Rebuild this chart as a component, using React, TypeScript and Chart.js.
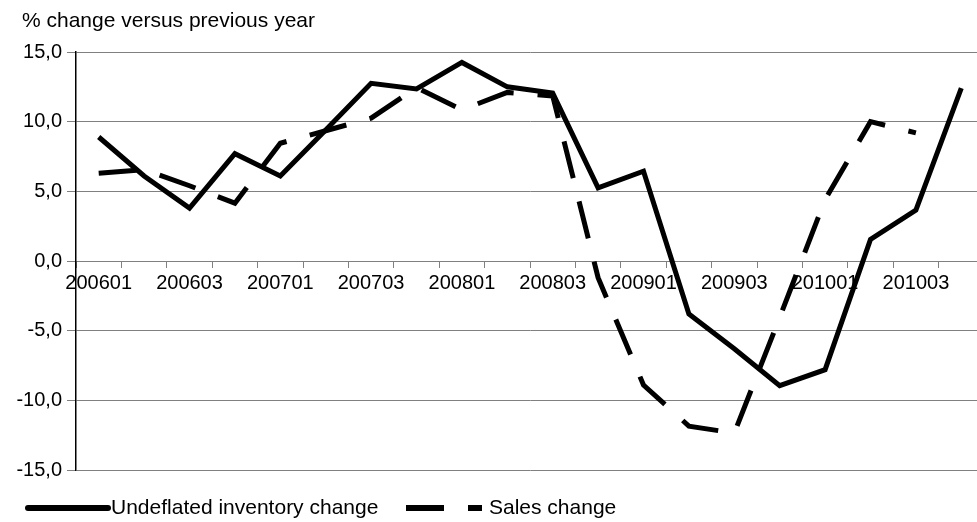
import React, { useEffect, useRef } from 'react';
import { Chart, registerables } from 'chart.js';

Chart.register(...registerables);

const categories = [
  '200601', '200602', '200603', '200604',
  '200701', '200702', '200703', '200704',
  '200801', '200802', '200803', '200804',
  '200901', '200902', '200903', '200904',
  '201001', '201002', '201003', '201004',
];

const inventoryChange = [
  8.9, 6.1, 3.8, 7.7,
  6.1, 9.4, 12.75, 12.35,
  14.25, 12.5, 12.05, 5.25,
  6.45, -3.8, -6.3, -8.95,
  -7.8, 1.55, 3.65, 12.4,
];

const salesChange: (number | null)[] = [
  6.3, 6.55, 5.4, 4.15,
  8.45, 9.35, 10.25, 12.45,
  10.85, 12.1, 11.85, -1.2,
  -8.9, -11.85, -12.35, -4.05,
  4.4, 10.0, 9.2, null,
];

const seriesLabels = ['Undeflated inventory change', 'Sales change'];
const yMin = -15;
const yMax = 15;
const yStep = 5;
const titleText = '% change versus previous year';

const FONT = "'Liberation Sans', Arial, Helvetica, sans-serif";

const titleAndLegend = {
  id: 'titleAndLegend',
  afterDraw(chart: any) {
    const ctx = chart.ctx as CanvasRenderingContext2D;
    // title
    ctx.save();
    ctx.fillStyle = '#000';
    ctx.font = `21px ${FONT}`;
    ctx.textBaseline = 'alphabetic';
    ctx.textAlign = 'left';
    ctx.fillText(titleText, 22, 27);
    ctx.restore();

    // legend
    const y = chart.chartArea.bottom + 38;
    const slots = [
      { x0: 28, x1: 108, tx: 111, cap: 'round' },
      { x0: 406, x1: 482, tx: 489, cap: 'butt' },
    ];
    chart.data.datasets.forEach((ds: any, i: number) => {
      const s = slots[i];
      if (!s) return;
      ctx.save();
      ctx.strokeStyle = ds.borderColor;
      ctx.lineWidth = 6;
      ctx.lineCap = s.cap as CanvasLineCap;
      ctx.setLineDash(ds.borderDash || []);
      ctx.beginPath();
      ctx.moveTo(s.x0, y);
      ctx.lineTo(s.x1, y);
      ctx.stroke();
      ctx.setLineDash([]);
      ctx.fillStyle = '#000';
      ctx.font = `21px ${FONT}`;
      ctx.textBaseline = 'middle';
      ctx.textAlign = 'left';
      ctx.fillText(ds.label, s.tx, y);
      ctx.restore();
    });
  },
};

export default function App() {
  const canvasRef = useRef<HTMLCanvasElement | null>(null);

  useEffect(() => {
    if (!canvasRef.current) return;
    const chart = new Chart(canvasRef.current, {
      type: 'line',
      data: {
        labels: categories,
        datasets: [
          {
            label: seriesLabels[0],
            data: inventoryChange,
            borderColor: '#000',
            backgroundColor: '#000',
            borderWidth: 5,
            pointRadius: 0,
            tension: 0,
            fill: false,
          },
          {
            label: seriesLabels[1],
            data: salesChange,
            borderColor: '#000',
            backgroundColor: '#000',
            borderWidth: 5,
            borderDash: [38, 24],
            borderCapStyle: 'butt',
            pointRadius: 0,
            tension: 0,
            fill: false,
            spanGaps: false,
          },
        ],
      },
      options: {
        responsive: false,
        animation: false,
        devicePixelRatio: 1,
        layout: { padding: { left: 12, right: 16, top: 52, bottom: 52 } },
        plugins: {
          legend: { display: false },
          tooltip: { enabled: false },
          title: { display: false },
        },
        scales: {
          x: {
            type: 'category',
            position: { y: 0 } as any,
            offset: true,
            grid: {
              drawOnChartArea: false,
              offset: true,
              tickLength: 6,
              color: '#808080',
            },
            border: { display: true, color: '#808080' },
            ticks: {
              autoSkip: false,
              maxRotation: 0,
              minRotation: 0,
              padding: 4,
              color: '#000',
              font: { family: FONT, size: 20 },
              callback: (_v: any, i: number) => (i % 2 === 0 ? categories[i] : ''),
            },
          },
          y: {
            min: yMin,
            max: yMax,
            afterFit: (scale: any) => {
              scale.width = 64;
            },
            grid: {
              color: '#808080',
              tickLength: 9,
            },
            border: { display: true, color: '#000', width: 1.5 },
            ticks: {
              stepSize: yStep,
              padding: 5,
              color: '#000',
              font: { family: FONT, size: 20 },
              callback: (v: any) => Number(v).toFixed(1).replace('.', ','),
            },
          },
        },
      },
      plugins: [titleAndLegend],
    });
    return () => chart.destroy();
  }, []);

  return (
    <div
      style={{
        position: 'fixed',
        left: 0,
        top: 0,
        width: 977,
        height: 522,
        overflow: 'hidden',
        background: '#fff',
      }}
    >
      <canvas ref={canvasRef} width={1000} height={522} style={{ display: 'block' }} />
    </div>
  );
}
